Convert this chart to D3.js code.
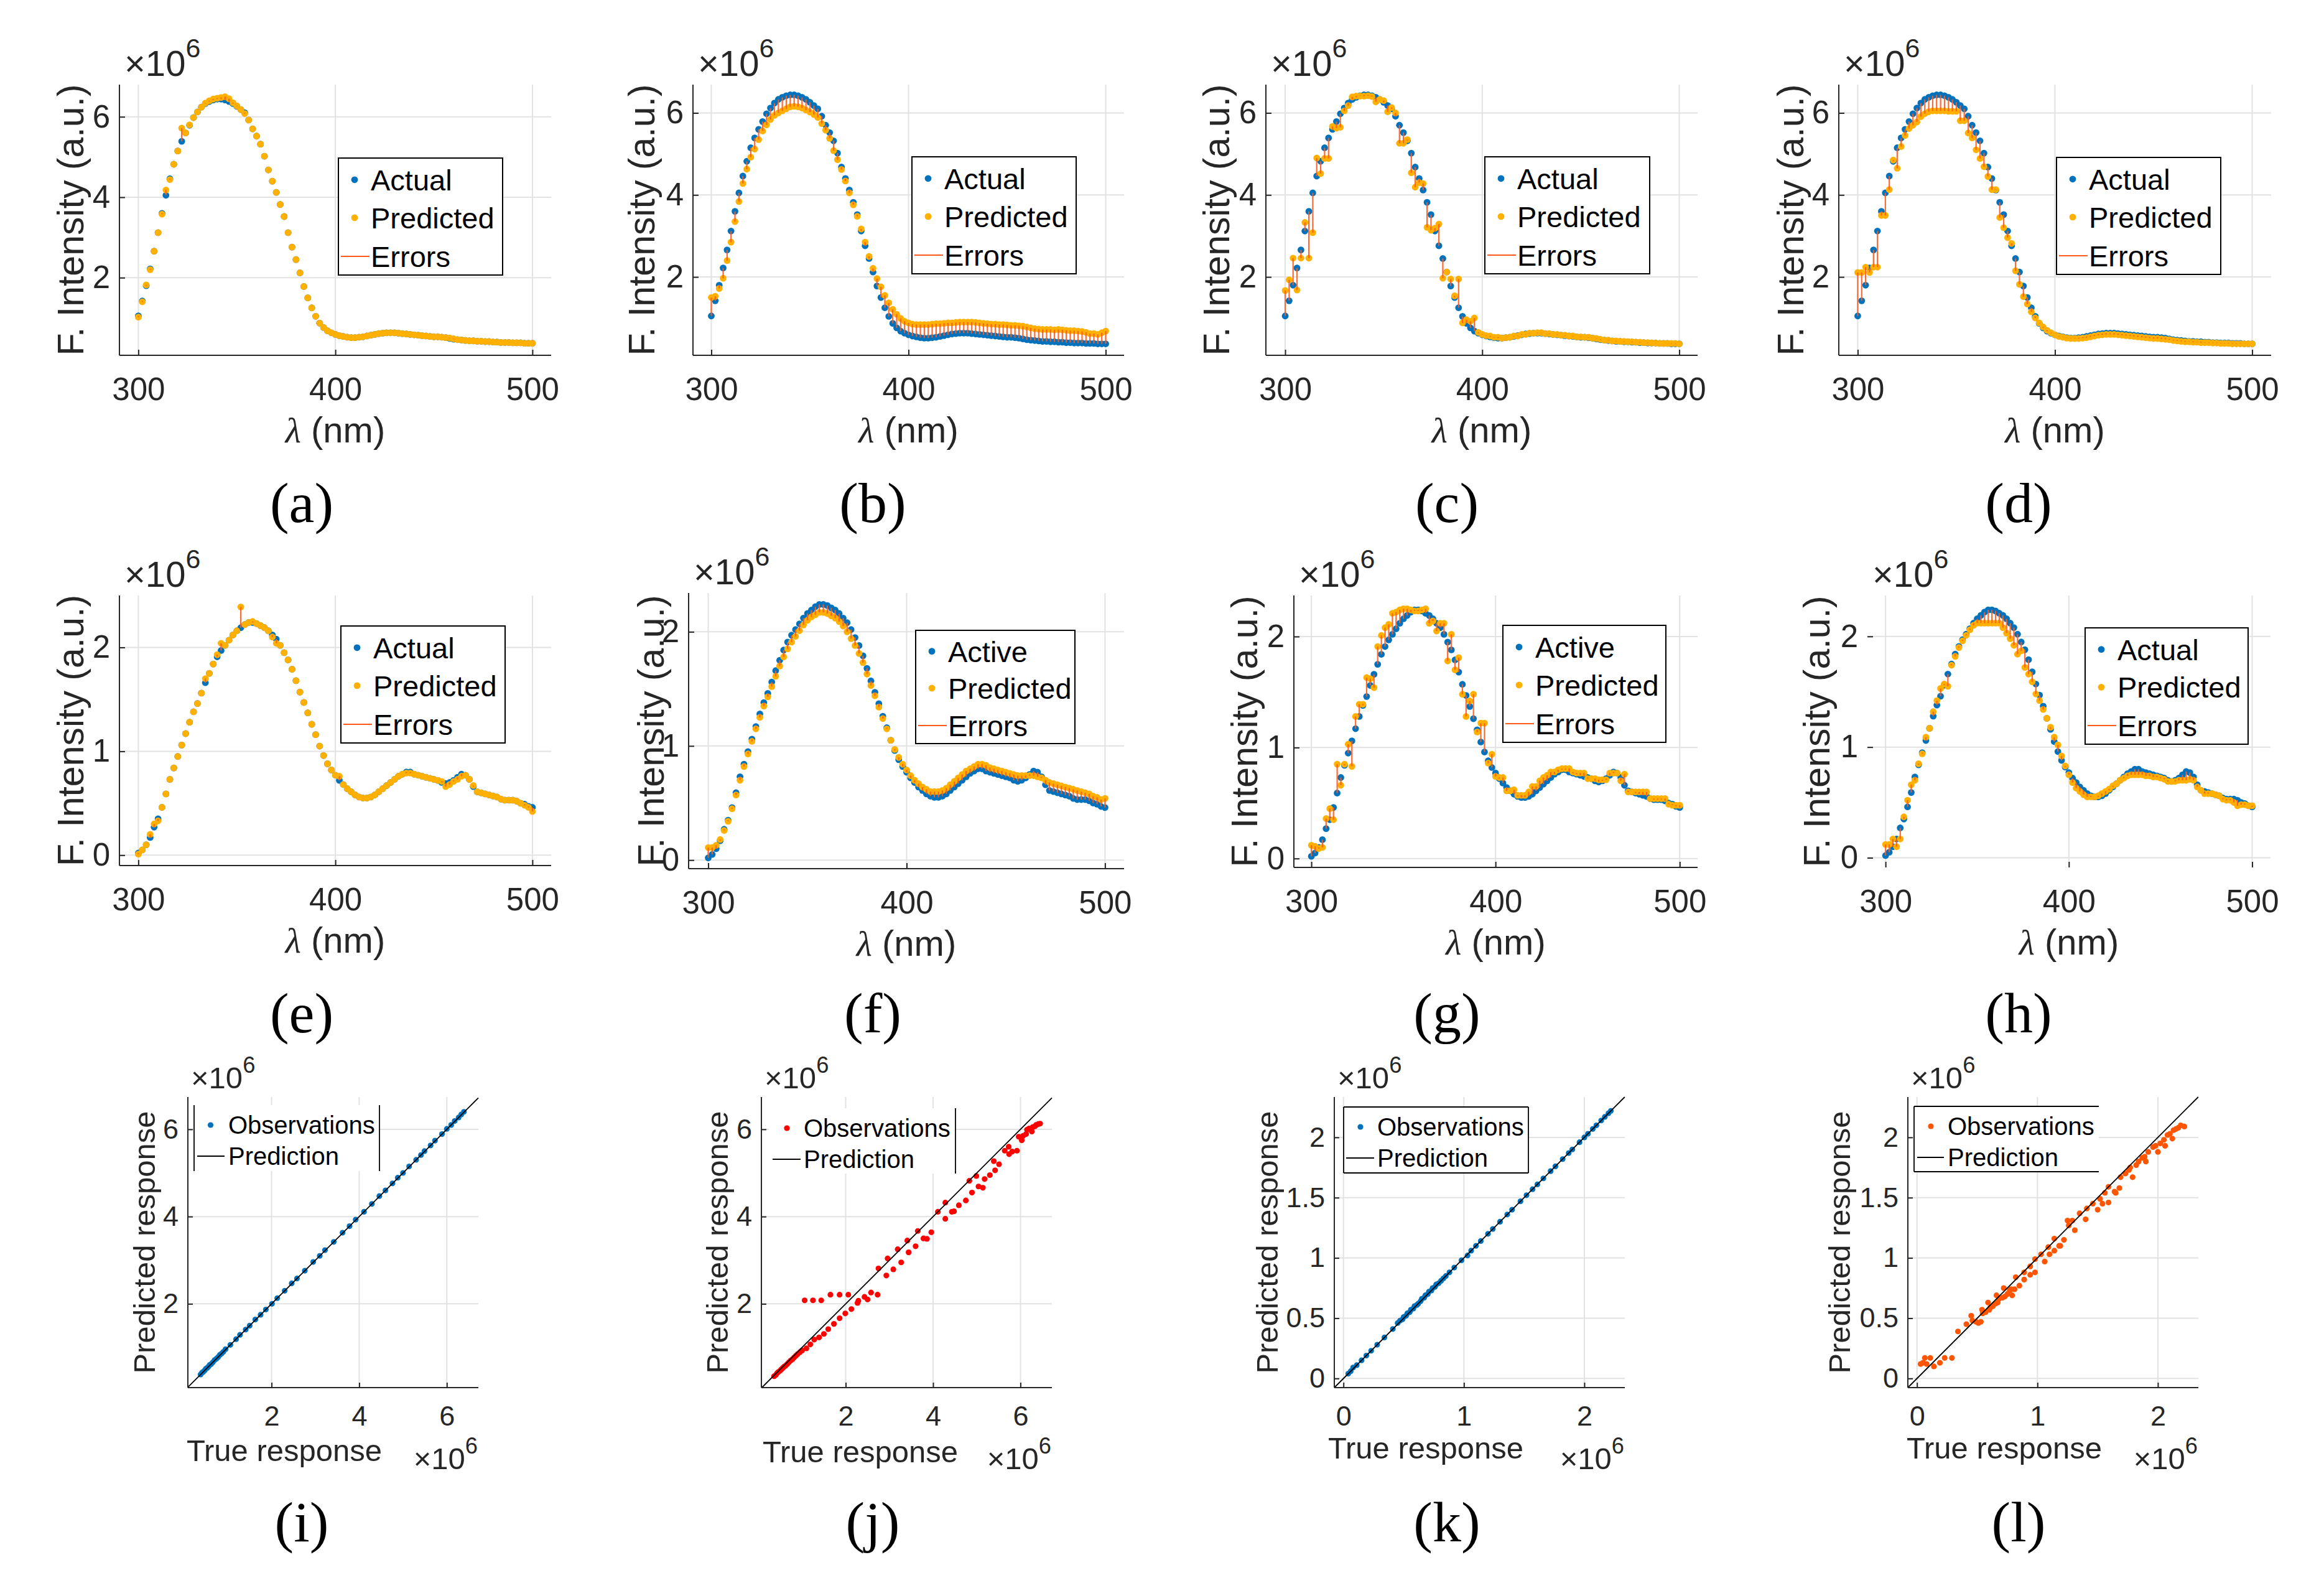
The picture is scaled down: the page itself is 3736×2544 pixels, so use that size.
<!DOCTYPE html>
<html>
<head>
<meta charset="utf-8">
<script src="https://cdn.jsdelivr.net/npm/d3@7"></script>
<style>
  body { margin: 0; background: #fff; }
  svg { display: block; }
</style>
</head>
<body>
<svg id="chart" width="3736" height="2544"></svg>
<script>
// ---------------- DATA (values in units of 10^6) ----------------
const wavelength = d3.range(300, 501, 2); // 300..500 nm, 2 nm step (101 samples)
const spectralXTicks = [300, 400, 500];

// Actual spectrum for panels (a)-(d)
const actualAD = [
  1.05,1.42,1.80,2.22,2.66,3.12,3.60,4.05,4.46,4.82,
  5.15,5.39,5.60,5.79,5.98,6.12,6.24,6.33,6.38,6.42,
  6.44,6.44,6.42,6.38,6.33,6.26,6.18,6.10,5.92,5.70,
  5.52,5.32,5.02,4.68,4.40,4.12,3.82,3.52,3.12,2.76,
  2.45,2.12,1.78,1.50,1.25,1.04,0.87,0.76,0.68,0.63,
  0.59,0.56,0.54,0.52,0.51,0.51,0.52,0.53,0.55,0.57,
  0.59,0.61,0.62,0.63,0.63,0.63,0.62,0.61,0.60,0.59,
  0.58,0.57,0.56,0.55,0.54,0.53,0.53,0.52,0.51,0.49,
  0.47,0.46,0.45,0.44,0.43,0.43,0.42,0.42,0.41,0.41,
  0.40,0.40,0.39,0.39,0.39,0.38,0.38,0.38,0.37,0.37,
  0.37];
const predA = [
  1.02,1.40,1.82,2.20,2.66,3.12,3.58,4.18,4.44,4.82,
  5.15,5.72,5.60,5.80,5.98,6.12,6.24,6.34,6.40,6.44,
  6.46,6.48,6.50,6.45,6.35,6.27,6.18,6.08,5.92,5.70,
  5.52,5.32,5.02,4.68,4.40,4.12,3.82,3.52,3.12,2.76,
  2.45,2.12,1.78,1.50,1.25,1.04,0.87,0.76,0.68,0.63,
  0.59,0.56,0.54,0.52,0.51,0.51,0.52,0.53,0.55,0.57,
  0.59,0.61,0.62,0.63,0.63,0.63,0.62,0.61,0.60,0.59,
  0.58,0.57,0.56,0.55,0.54,0.53,0.53,0.52,0.51,0.50,
  0.48,0.46,0.45,0.44,0.43,0.43,0.42,0.42,0.41,0.41,
  0.40,0.40,0.39,0.39,0.39,0.38,0.38,0.38,0.37,0.37,
  0.37];
const predB = [
  1.50,1.53,1.72,1.97,2.40,2.85,3.35,3.84,4.28,4.63,
  4.92,5.12,5.35,5.56,5.71,5.84,5.94,6.00,6.05,6.10,
  6.15,6.16,6.15,6.12,6.07,6.02,5.96,5.89,5.74,5.58,
  5.38,5.08,4.86,4.62,4.34,4.05,3.76,3.48,3.17,2.85,
  2.50,2.21,1.96,1.76,1.55,1.37,1.21,1.09,0.99,0.92,
  0.88,0.85,0.84,0.84,0.84,0.84,0.85,0.86,0.86,0.87,
  0.88,0.88,0.89,0.90,0.90,0.90,0.90,0.89,0.88,0.87,
  0.86,0.85,0.85,0.84,0.84,0.83,0.82,0.82,0.81,0.80,
  0.78,0.76,0.74,0.73,0.72,0.72,0.72,0.71,0.72,0.71,
  0.70,0.69,0.69,0.68,0.67,0.65,0.62,0.62,0.60,0.64,
  0.68];
const predC = [
  1.67,1.93,2.46,1.68,2.46,3.33,2.46,3.08,4.90,4.52,
  4.89,4.89,5.67,5.63,5.65,6.05,6.18,6.39,6.41,6.41,
  6.41,6.42,6.40,6.27,6.33,6.30,6.03,6.13,6.00,5.26,
  5.26,5.35,4.54,4.19,4.30,4.28,3.21,3.14,3.19,3.29,
  1.97,2.12,1.95,1.54,1.95,0.88,0.96,0.92,1.00,0.65,
  0.60,0.57,0.56,0.53,0.53,0.51,0.52,0.53,0.56,0.56,
  0.60,0.60,0.63,0.63,0.64,0.64,0.62,0.62,0.60,0.60,
  0.58,0.58,0.56,0.56,0.54,0.54,0.53,0.53,0.51,0.50,
  0.48,0.46,0.46,0.44,0.44,0.43,0.43,0.42,0.42,0.41,
  0.41,0.40,0.40,0.39,0.39,0.38,0.38,0.38,0.38,0.38,
  0.37];
const predD = [
  2.11,2.11,2.24,2.11,2.24,2.24,3.50,3.50,4.13,4.85,
  4.65,5.18,5.45,5.62,5.70,5.78,5.91,5.98,6.03,6.05,
  6.05,6.05,6.05,6.04,6.04,6.04,5.81,5.81,5.51,5.39,
  5.10,4.89,4.69,4.45,4.13,4.13,3.45,3.20,2.96,2.82,
  2.15,1.82,1.52,1.34,1.15,1.00,0.88,0.78,0.70,0.64,
  0.59,0.55,0.53,0.51,0.50,0.50,0.50,0.51,0.52,0.54,
  0.56,0.58,0.59,0.60,0.60,0.60,0.59,0.58,0.57,0.56,
  0.55,0.54,0.53,0.52,0.51,0.50,0.50,0.49,0.48,0.47,
  0.45,0.44,0.43,0.42,0.42,0.41,0.41,0.40,0.40,0.40,
  0.39,0.39,0.38,0.38,0.38,0.37,0.37,0.37,0.37,0.37,
  0.37];

// Actual spectrum for panels (e)-(h)
const actualEH = [
  0.02,0.05,0.10,0.17,0.27,0.35,0.46,0.59,0.73,0.84,
  0.95,1.06,1.17,1.28,1.38,1.46,1.56,1.66,1.75,1.84,
  1.91,1.97,2.02,2.07,2.12,2.16,2.19,2.22,2.24,2.24,
  2.23,2.21,2.19,2.16,2.12,2.08,2.02,1.95,1.88,1.79,
  1.68,1.57,1.47,1.37,1.26,1.16,1.05,0.96,0.88,0.82,
  0.77,0.72,0.68,0.64,0.61,0.58,0.56,0.55,0.55,0.56,
  0.58,0.61,0.64,0.67,0.70,0.73,0.76,0.78,0.80,0.80,
  0.78,0.77,0.76,0.75,0.74,0.73,0.72,0.70,0.69,0.70,
  0.72,0.75,0.78,0.77,0.73,0.66,0.61,0.60,0.59,0.58,
  0.57,0.56,0.54,0.53,0.53,0.53,0.52,0.50,0.49,0.47,
  0.46];
const predE = [
  0.01,0.05,0.10,0.20,0.30,0.33,0.46,0.59,0.73,0.84,
  0.95,1.06,1.17,1.28,1.38,1.46,1.56,1.70,1.75,1.84,
  1.93,2.04,2.02,2.07,2.12,2.16,2.39,2.22,2.24,2.25,
  2.23,2.21,2.19,2.16,2.10,2.04,2.02,1.95,1.88,1.79,
  1.68,1.57,1.47,1.37,1.26,1.16,1.05,0.96,0.88,0.82,
  0.77,0.76,0.68,0.64,0.61,0.58,0.56,0.55,0.55,0.56,
  0.58,0.61,0.64,0.67,0.70,0.73,0.76,0.78,0.79,0.79,
  0.78,0.77,0.76,0.75,0.74,0.73,0.72,0.71,0.66,0.68,
  0.71,0.73,0.76,0.77,0.73,0.67,0.61,0.60,0.59,0.58,
  0.57,0.56,0.54,0.53,0.53,0.53,0.52,0.50,0.48,0.46,
  0.42];
const predF = [
  0.11,0.11,0.13,0.18,0.26,0.34,0.45,0.57,0.70,0.82,
  0.93,1.04,1.15,1.25,1.35,1.43,1.52,1.61,1.70,1.78,
  1.85,1.91,1.96,2.01,2.06,2.10,2.13,2.15,2.17,2.17,
  2.16,2.14,2.12,2.09,2.05,2.00,1.94,1.88,1.81,1.73,
  1.63,1.53,1.44,1.34,1.24,1.15,1.05,0.97,0.90,0.84,
  0.79,0.74,0.70,0.67,0.64,0.62,0.60,0.60,0.60,0.61,
  0.63,0.66,0.69,0.72,0.75,0.78,0.80,0.82,0.84,0.84,
  0.83,0.81,0.80,0.79,0.78,0.77,0.76,0.75,0.74,0.74,
  0.74,0.74,0.74,0.73,0.72,0.70,0.68,0.67,0.66,0.65,
  0.64,0.63,0.62,0.61,0.60,0.59,0.58,0.56,0.55,0.53,
  0.54];
const predG = [
  0.12,0.11,0.09,0.10,0.36,0.45,0.35,0.85,0.66,0.85,
  1.03,0.83,1.28,1.39,1.39,1.63,1.62,1.54,1.91,2.01,
  2.08,2.11,2.21,2.22,2.24,2.25,2.25,2.24,2.23,2.23,
  2.24,2.25,2.12,2.14,2.05,2.12,2.12,1.78,2.02,1.70,
  1.81,1.48,1.28,1.42,1.48,1.14,1.22,1.22,0.86,0.94,
  0.74,0.73,0.73,0.61,0.61,0.62,0.57,0.57,0.57,0.60,
  0.65,0.65,0.70,0.73,0.75,0.78,0.78,0.80,0.81,0.81,
  0.81,0.78,0.77,0.77,0.77,0.72,0.72,0.72,0.71,0.71,
  0.71,0.77,0.77,0.77,0.70,0.76,0.60,0.60,0.60,0.60,
  0.60,0.60,0.54,0.54,0.54,0.54,0.54,0.49,0.48,0.48,
  0.48];
const predH = [
  0.12,0.12,0.17,0.10,0.17,0.37,0.52,0.66,0.70,0.85,
  0.94,1.09,1.17,1.32,1.42,1.53,1.57,1.55,1.74,1.82,
  1.90,1.96,2.01,2.06,2.10,2.12,2.12,2.12,2.12,2.12,
  2.12,2.12,2.08,2.03,1.98,1.92,1.84,1.87,1.72,1.66,
  1.59,1.48,1.42,1.34,1.26,1.18,1.09,1.02,0.92,0.83,
  0.75,0.68,0.63,0.60,0.57,0.55,0.55,0.55,0.56,0.58,
  0.60,0.62,0.65,0.67,0.70,0.72,0.74,0.75,0.75,0.75,
  0.75,0.74,0.74,0.73,0.73,0.72,0.71,0.69,0.69,0.69,
  0.70,0.70,0.70,0.71,0.70,0.64,0.61,0.58,0.58,0.58,
  0.57,0.56,0.53,0.52,0.52,0.50,0.47,0.48,0.48,0.47,
  0.47];

const legendActual = ["Actual", "Predicted", "Errors"];
const legendActive = ["Active", "Predicted", "Errors"];
const legendScatter = ["Observations", "Prediction"];

// Scatter panels: [true response, predicted response] (x10^6)
const obsI = [[0.38,0.38],[0.41,0.42],[0.44,0.44],[0.47,0.47],[0.50,0.51],[0.53,0.53],[0.56,0.56],[0.59,0.60],
  [0.62,0.62],[0.66,0.66],[0.70,0.71],[0.74,0.74],[0.78,0.78],[0.82,0.83],[0.86,0.86],[0.90,0.90],[0.95,0.96],
  [1.06,1.06],[1.19,1.19],[1.28,1.29],[1.41,1.41],[1.50,1.50],[1.63,1.64],[1.75,1.75],[1.87,1.87],[2.01,2.00],
  [2.13,2.13],[2.30,2.30],[2.46,2.47],[2.58,2.58],[2.76,2.76],[2.95,2.96],[3.10,3.10],[3.22,3.23],[3.42,3.42],
  [3.62,3.63],[3.78,3.78],[3.92,3.93],[4.11,4.11],[4.29,4.29],[4.46,4.47],[4.60,4.60],[4.76,4.76],[4.88,4.89],
  [5.00,5.00],[5.14,5.15],[5.30,5.30],[5.41,5.41],[5.49,5.50],[5.63,5.63],[5.73,5.74],[5.89,5.89],[6.00,6.01],
  [6.10,6.10],[6.18,6.19],[6.27,6.27],[6.33,6.34],[6.39,6.40]];
const obsJ = [[0.36,0.34],[0.40,0.37],[0.43,0.41],[0.46,0.44],[0.50,0.47],[0.53,0.50],[0.56,0.53],[0.59,0.56],
  [0.62,0.58],[0.66,0.62],[0.70,0.66],[0.74,0.70],[0.78,0.73],[0.82,0.77],[0.86,0.81],[0.90,0.85],[0.95,0.89],
  [1.00,0.93],[1.10,0.98],[1.19,1.07],[1.28,1.18],[1.39,1.23],[1.50,1.31],[1.60,1.42],[1.73,1.54],[1.86,1.67],
  [1.99,1.78],[2.13,1.88],[2.27,2.02],[2.43,2.16],[1.06,2.08],[1.25,2.08],[1.44,2.08],[1.65,2.21],[1.86,2.21],
  [2.06,2.21],[2.29,2.07],[2.50,2.10],[2.58,2.26],[2.73,2.21],[2.75,2.81],[2.93,2.65],[2.96,3.04],[3.09,2.79],
  [3.19,3.25],[3.27,2.95],[3.41,3.45],[3.44,3.18],[3.60,3.32],[3.65,3.67],[3.78,3.50],[3.86,3.49],[3.96,3.64],
  [4.11,4.11],[4.28,4.32],[4.28,3.95],[4.43,4.11],[4.48,4.12],[4.59,4.26],[4.75,4.37],[4.83,4.82],[4.89,4.55],
  [4.99,4.93],[5.04,4.69],[5.14,4.66],[5.18,4.86],[5.30,4.95],[5.39,5.27],[5.42,5.06],[5.51,5.20],[5.64,5.51],
  [5.73,5.60],[5.74,5.43],[5.81,5.49],[5.92,5.51],[5.96,5.83],[6.03,5.75],[6.06,5.85],[6.13,5.89],[6.15,5.99],
  [6.20,6.02],[6.26,5.95],[6.28,6.05],[6.33,6.07],[6.36,6.10],[6.41,6.12],[6.45,6.13]];
const obsK = [[0.04,0.04],[0.06,0.06],[0.08,0.09],[0.11,0.11],[0.15,0.15],[0.19,0.19],[0.23,0.23],[0.28,0.28],
  [0.34,0.34],[0.41,0.41],[0.45,0.46],[0.47,0.48],[0.49,0.49],[0.50,0.51],[0.52,0.52],[0.53,0.54],[0.55,0.55],
  [0.56,0.57],[0.58,0.58],[0.59,0.60],[0.61,0.61],[0.62,0.62],[0.64,0.64],[0.65,0.66],[0.67,0.67],[0.68,0.69],
  [0.70,0.70],[0.71,0.72],[0.73,0.73],[0.74,0.75],[0.76,0.76],[0.77,0.78],[0.79,0.79],[0.81,0.81],[0.83,0.83],
  [0.85,0.85],[0.88,0.88],[0.92,0.92],[0.98,0.98],[1.03,1.02],[1.06,1.06],[1.10,1.10],[1.14,1.14],[1.20,1.20],
  [1.24,1.24],[1.30,1.30],[1.36,1.36],[1.40,1.40],[1.47,1.47],[1.52,1.52],[1.57,1.57],[1.61,1.61],[1.66,1.66],
  [1.72,1.72],[1.76,1.76],[1.82,1.82],[1.87,1.87],[1.90,1.90],[1.96,1.96],[2.00,2.00],[2.03,2.03],[2.07,2.07],
  [2.10,2.10],[2.14,2.14],[2.17,2.17],[2.20,2.20],[2.22,2.22]];
const obsL = [[0.03,0.12],[0.05,0.13],[0.065,0.17],[0.08,0.12],[0.11,0.17],[0.14,0.10],[0.19,0.13],[0.23,0.17],
  [0.29,0.17],[0.34,0.39],[0.41,0.45],[0.45,0.52],[0.46,0.48],[0.49,0.47],[0.51,0.46],[0.53,0.47],[0.54,0.57],
  [0.545,0.54],[0.57,0.55],[0.59,0.63],[0.60,0.57],[0.61,0.59],[0.63,0.60],[0.65,0.62],[0.66,0.69],[0.67,0.63],
  [0.68,0.66],[0.71,0.67],[0.72,0.75],[0.73,0.68],[0.75,0.70],[0.77,0.73],[0.78,0.74],[0.79,0.69],[0.81,0.74],
  [0.82,0.84],[0.85,0.77],[0.89,0.88],[0.89,0.82],[0.94,0.86],[0.94,0.93],[0.98,0.88],[0.98,0.99],[1.03,1.03],
  [1.06,0.97],[1.09,1.09],[1.10,1.03],[1.14,1.16],[1.14,1.06],[1.18,1.10],[1.19,1.10],[1.22,1.15],[1.25,1.31],
  [1.26,1.27],[1.29,1.31],[1.31,1.23],[1.35,1.37],[1.40,1.32],[1.41,1.41],[1.46,1.45],[1.50,1.40],[1.52,1.49],
  [1.54,1.45],[1.56,1.54],[1.59,1.46],[1.59,1.59],[1.64,1.55],[1.65,1.54],[1.68,1.58],[1.69,1.67],[1.73,1.70],
  [1.76,1.73],[1.77,1.75],[1.79,1.67],[1.82,1.77],[1.84,1.80],[1.87,1.83],[1.89,1.84],[1.90,1.80],[1.92,1.88],
  [1.96,1.92],[1.98,1.93],[2.00,1.88],[2.02,1.95],[2.05,1.98],[2.06,1.93],[2.08,2.02],[2.10,2.03],[2.12,1.99],
  [2.13,2.06],[2.15,2.07],[2.17,2.08],[2.19,2.10],[2.22,2.09]];

// ---------------- STYLE ----------------
const FONT = '"Liberation Sans", Arial, Helvetica, sans-serif';
const SERIF = '"Liberation Serif", "Times New Roman", serif';
const COL = { actual: "#0072BD", pred: "#FFB000", err: "#FF5A1E", grid: "#e2e2e2", axis: "#262626" };
const R_SPEC = 5.4, R_SCAT = 4.6;

const svg = d3.select("#chart").attr("font-family", FONT);

function xTen(g, x, y, fs, anchor) {
  const t = g.append("text").attr("x", x).attr("y", y).attr("font-size", fs)
    .attr("fill", COL.axis).attr("text-anchor", anchor || "start");
  t.append("tspan").text("×10");
  t.append("tspan").attr("dy", -fs * 0.52).attr("font-size", fs * 0.74).text("6");
}

function styleAxis(sel, fs) {
  sel.attr("font-size", fs).attr("font-family", FONT);
  sel.select(".domain").remove();
  sel.selectAll(".tick line").attr("stroke", COL.axis).attr("stroke-width", 2);
  sel.selectAll(".tick text").attr("fill", COL.axis);
}

// ---------------- SPECTRAL PANELS ----------------
const specPanels = [
  {l:192,  r:886,  t:136, b:571,  xd:[290.4,509.5], yd:[0.07,6.8],   yt:[2,4,6], act:actualAD, pred:predA, names:legendActual, lg:[544,254,264,188],  ylx:113,  lab:"(a)", lx:485,  ly:839},
  {l:1114, r:1807, t:136, b:571,  xd:[290.7,509.3], yd:[0.09,6.69],  yt:[2,4,6], act:actualAD, pred:predB, names:legendActual, lg:[1466,252,264,188], ylx:1031, lab:"(b)", lx:1403, ly:839},
  {l:2035, r:2729, t:136, b:571,  xd:[290.2,509.3], yd:[0.09,6.69],  yt:[2,4,6], act:actualAD, pred:predC, names:legendActual, lg:[2387,252,265,188], ylx:1955, lab:"(c)", lx:2326, ly:839},
  {l:2956, r:3651, t:136, b:571,  xd:[290.4,509.6], yd:[0.09,6.69],  yt:[2,4,6], act:actualAD, pred:predD, names:legendActual, lg:[3306,253,264,188], ylx:2878, lab:"(d)", lx:3245, ly:839},
  {l:192,  r:886,  t:957, b:1391, xd:[290.4,509.5], yd:[-0.1,2.5],   yt:[0,1,2], act:actualEH, pred:predE, names:legendActual, lg:[548,1006,264,188],  ylx:113,  lab:"(e)", lx:485,  ly:1659},
  {l:1107, r:1807, t:953, b:1396, xd:[290.1,509.6], yd:[-0.075,2.34],yt:[0,1,2], act:actualEH, pred:predF, names:legendActive, lg:[1472,1013,256,182], ylx:1046, lab:"(f)", lx:1403, ly:1659},
  {l:2080, r:2729, t:957, b:1394, xd:[290.5,509.7], yd:[-0.08,2.37], yt:[0,1,2], act:actualEH, pred:predG, names:legendActive, lg:[2416,1005,262,188], ylx:2000, lab:"(g)", lx:2326, ly:1659},
  {l:3002, r:3650, t:957, b:1394, xd:[290.1,510],   yd:[-0.087,2.37],yt:[0,1,2], act:actualEH, pred:predH, names:legendActual, lg:[3352,1009,262,187], ylx:2920, lab:"(h)", lx:3245, ly:1659, noAxes:true}
];

function drawSpectrum(c) {
  const g = svg.append("g");
  const x = d3.scaleLinear().domain(c.xd).range([c.l, c.r]);
  const y = d3.scaleLinear().domain(c.yd).range([c.b, c.t]);

  g.append("g").selectAll("line").data(spectralXTicks).join("line")
    .attr("x1", d => x(d)).attr("x2", d => x(d)).attr("y1", c.t).attr("y2", c.b)
    .attr("stroke", COL.grid).attr("stroke-width", 2);
  g.append("g").selectAll("line").data(c.yt).join("line")
    .attr("x1", c.l).attr("x2", c.r).attr("y1", d => y(d)).attr("y2", d => y(d))
    .attr("stroke", COL.grid).attr("stroke-width", 2);

  const pts = wavelength.map((w, i) => ({ w, a: c.act[i], p: c.pred[i] }));
  g.append("g").selectAll("circle").data(pts).join("circle")
    .attr("cx", d => x(d.w)).attr("cy", d => y(d.a)).attr("r", R_SPEC).attr("fill", COL.actual);
  g.append("g").selectAll("circle").data(pts).join("circle")
    .attr("cx", d => x(d.w)).attr("cy", d => y(d.p)).attr("r", R_SPEC).attr("fill", COL.pred);
  g.append("g").selectAll("line").data(pts.filter(d => Math.abs(d.a - d.p) > 0.004)).join("line")
    .attr("x1", d => x(d.w)).attr("x2", d => x(d.w)).attr("y1", d => y(d.a)).attr("y2", d => y(d.p))
    .attr("stroke", COL.err).attr("stroke-width", 2.2).attr("opacity", 0.9);

  const gx = g.append("g").attr("transform", `translate(0,${c.b})`)
    .call(d3.axisBottom(x).tickValues(spectralXTicks).tickSizeInner(-9).tickSizeOuter(0)
      .tickPadding(36).tickFormat(d3.format("d")));
  styleAxis(gx, 51);
  const gy = g.append("g").attr("transform", `translate(${c.l},0)`)
    .call(d3.axisLeft(y).tickValues(c.yt).tickSizeInner(-9).tickSizeOuter(0)
      .tickPadding(15).tickFormat(d3.format("d")));
  styleAxis(gy, 51);
  if (!c.noAxes) {
    g.append("line").attr("x1", c.l).attr("x2", c.l).attr("y1", c.t).attr("y2", c.b)
      .attr("stroke", COL.axis).attr("stroke-width", 2);
    g.append("line").attr("x1", c.l).attr("x2", c.r).attr("y1", c.b).attr("y2", c.b)
      .attr("stroke", COL.axis).attr("stroke-width", 2);
  }

  xTen(g, c.l + 8, c.t - 14, 58, "start");

  const xl = g.append("text").attr("x", (c.l + c.r) / 2).attr("y", c.b + 140)
    .attr("text-anchor", "middle").attr("font-size", 58).attr("fill", COL.axis);
  xl.append("tspan").attr("font-family", SERIF).attr("font-style", "italic").text("λ");
  xl.append("tspan").text(" (nm)");
  g.append("text").attr("transform", `translate(${c.ylx},${(c.t + c.b) / 2}) rotate(-90)`)
    .attr("dy", "0.36em").attr("text-anchor", "middle").attr("font-size", 59)
    .attr("fill", COL.axis).text("F. Intensity (a.u.)");

  const [lx, ly, lw, lh] = c.lg;
  const lgG = g.append("g");
  lgG.append("rect").attr("x", lx).attr("y", ly).attr("width", lw).attr("height", lh)
    .attr("fill", "#fff").attr("stroke", "#000").attr("stroke-width", 2);
  const rows = [0.185, 0.51, 0.84].map(f => ly + f * lh);
  lgG.append("circle").attr("cx", lx + 26).attr("cy", rows[0]).attr("r", R_SPEC).attr("fill", COL.actual);
  lgG.append("circle").attr("cx", lx + 26).attr("cy", rows[1]).attr("r", R_SPEC).attr("fill", COL.pred);
  lgG.append("line").attr("x1", lx + 4).attr("x2", lx + 50).attr("y1", rows[2]).attr("y2", rows[2])
    .attr("stroke", COL.err).attr("stroke-width", 2);
  lgG.selectAll("text.lg").data(c.names).join("text").attr("class", "lg")
    .attr("x", lx + 52).attr("y", (d, i) => rows[i]).attr("dy", "0.36em")
    .attr("font-size", 47).attr("fill", "#000").text(d => d);

  g.append("text").attr("x", c.lx).attr("y", c.ly).attr("text-anchor", "middle")
    .attr("font-family", SERIF).attr("font-size", 92).attr("fill", "#000").text(c.lab);
}
specPanels.forEach(drawSpectrum);

// ---------------- SCATTER PANELS ----------------
const scatPanels = [
  {l:302,  r:769,  t:1763, b:2230, xd:[0.09,6.72],   yd:[0.08,6.74],   xt:[2,4,6], yt:[2,4,6],
   obs:obsI, col:"#0072BD", lg:[312,1776,298,106], borders:"lr", dotX:338.5, textX:367, lineX:[317,361], xlx:457, xly:2330, ylx:231, lab:"(i)", lx:485},
  {l:1224, r:1691, t:1763, b:2230, xd:[0.07,6.72],   yd:[0.08,6.74],   xt:[2,4,6], yt:[2,4,6],
   obs:obsJ, col:"#FF0000", lg:[1236,1781,300,105], borders:"r", dotX:1265, textX:1292, lineX:[1242,1287], xlx:1383, xly:2332, ylx:1152, lab:"(j)", lx:1403},
  {l:2145, r:2612, t:1763, b:2230, xd:[-0.076,2.336], yd:[-0.076,2.335], xt:[0,1,2], yt:[0,0.5,1,1.5,2],
   obs:obsK, col:"#0072BD", lg:[2160,1779,297,106], borders:"ltrb", dotX:2187, textX:2214, lineX:[2164,2209], xlx:2292, xly:2326, ylx:2036, lab:"(k)", lx:2326},
  {l:3067, r:3534, t:1763, b:2230, xd:[-0.076,2.336], yd:[-0.076,2.335], xt:[0,1,2], yt:[0,0.5,1,1.5,2],
   obs:obsL, col:"#FF5500", lg:[3077,1778,297,105], borders:"ltb", dotX:3104, textX:3131, lineX:[3082,3125], xlx:3222, xly:2326, ylx:2956, lab:"(l)", lx:3245}
];

function drawScatter(c) {
  const g = svg.append("g");
  const x = d3.scaleLinear().domain(c.xd).range([c.l, c.r]);
  const y = d3.scaleLinear().domain(c.yd).range([c.b, c.t]);

  g.append("g").selectAll("line").data(c.xt).join("line")
    .attr("x1", d => x(d)).attr("x2", d => x(d)).attr("y1", c.t).attr("y2", c.b)
    .attr("stroke", COL.grid).attr("stroke-width", 2);
  g.append("g").selectAll("line").data(c.yt).join("line")
    .attr("x1", c.l).attr("x2", c.r).attr("y1", d => y(d)).attr("y2", d => y(d))
    .attr("stroke", COL.grid).attr("stroke-width", 2);

  g.append("g").selectAll("circle").data(c.obs).join("circle")
    .attr("cx", d => x(d[0])).attr("cy", d => y(d[1])).attr("r", R_SCAT).attr("fill", c.col);

  const lo = Math.max(c.xd[0], c.yd[0]), hi = Math.min(c.xd[1], c.yd[1]);
  g.append("line").attr("x1", x(lo)).attr("y1", y(lo)).attr("x2", x(hi)).attr("y2", y(hi))
    .attr("stroke", "#000").attr("stroke-width", 1.8);

  const fmt = d => String(d);
  const gx = g.append("g").attr("transform", `translate(0,${c.b})`)
    .call(d3.axisBottom(x).tickValues(c.xt).tickSizeInner(-8).tickSizeOuter(0).tickPadding(29).tickFormat(fmt));
  styleAxis(gx, 45);
  const gy = g.append("g").attr("transform", `translate(${c.l},0)`)
    .call(d3.axisLeft(y).tickValues(c.yt).tickSizeInner(-8).tickSizeOuter(0).tickPadding(15).tickFormat(fmt));
  styleAxis(gy, 45);
  g.append("line").attr("x1", c.l).attr("x2", c.l).attr("y1", c.t).attr("y2", c.b)
    .attr("stroke", COL.axis).attr("stroke-width", 2);
  g.append("line").attr("x1", c.l).attr("x2", c.r).attr("y1", c.b).attr("y2", c.b)
    .attr("stroke", COL.axis).attr("stroke-width", 2);

  xTen(g, c.l + 5, c.t - 14, 49, "start");
  xTen(g, c.r - 1, 2361, 49, "end");

  g.append("text").attr("x", c.xlx).attr("y", c.xly).attr("dy", "0.36em").attr("text-anchor", "middle")
    .attr("font-size", 49).attr("fill", COL.axis).text("True response");
  g.append("text").attr("transform", `translate(${c.ylx},${(c.t + c.b) / 2}) rotate(-90)`)
    .attr("dy", "0.36em").attr("text-anchor", "middle").attr("font-size", 49)
    .attr("fill", COL.axis).text("Predicted response");

  const [lx, ly, lw, lh] = c.lg;
  const lgG = g.append("g");
  lgG.append("rect").attr("x", lx).attr("y", ly).attr("width", lw).attr("height", lh).attr("fill", "#fff");
  const edge = (x1, y1, x2, y2) => lgG.append("line").attr("x1", x1).attr("y1", y1).attr("x2", x2).attr("y2", y2)
    .attr("stroke", "#000").attr("stroke-width", 1.8);
  if (c.borders.includes("l")) edge(lx, ly, lx, ly + lh);
  if (c.borders.includes("r")) edge(lx + lw, ly, lx + lw, ly + lh);
  if (c.borders.includes("t")) edge(lx, ly, lx + lw, ly);
  if (c.borders.includes("b")) edge(lx, ly + lh, lx + lw, ly + lh);
  const rows = [ly + 32, ly + 82];
  lgG.append("circle").attr("cx", c.dotX).attr("cy", rows[0]).attr("r", R_SCAT).attr("fill", c.col);
  lgG.append("line").attr("x1", c.lineX[0]).attr("x2", c.lineX[1]).attr("y1", rows[1]).attr("y2", rows[1])
    .attr("stroke", "#000").attr("stroke-width", 1.8);
  lgG.selectAll("text.lg").data(legendScatter).join("text").attr("class", "lg")
    .attr("x", c.textX).attr("y", (d, i) => rows[i]).attr("dy", "0.36em")
    .attr("font-size", 40).attr("fill", "#000").text(d => d);

  g.append("text").attr("x", c.lx).attr("y", 2477).attr("text-anchor", "middle")
    .attr("font-family", SERIF).attr("font-size", 92).attr("fill", "#000").text(c.lab);
}
scatPanels.forEach(drawScatter);
</script>
</body>
</html>
